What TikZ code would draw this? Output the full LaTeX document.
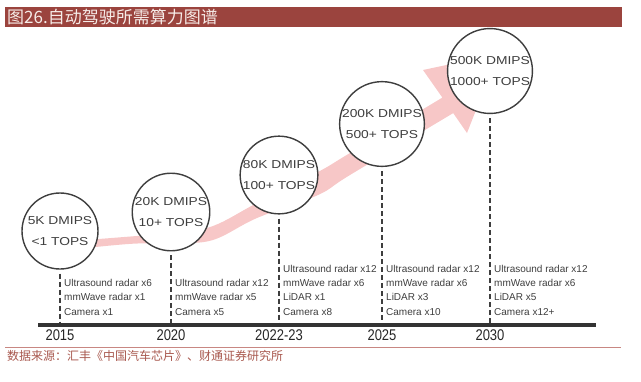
\documentclass[tikz,border=0pt]{standalone}
\usepackage{fontspec}
\usepackage{xcolor}
\usepackage{tikz}
\usetikzlibrary{positioning,calc}
\setmainfont{Liberation Sans}
\newfontfamily\cjkfont{Noto Sans CJK SC}
\newfontfamily\wideface[FakeStretch=1.2]{Liberation Sans}
\newfontfamily\yearface[FakeStretch=0.84]{Liberation Sans}
\definecolor{titlebar}{RGB}{155,68,62}
\definecolor{titleink}{RGB}{246,236,232}
\definecolor{srcred}{RGB}{168,88,78}
\definecolor{rulered}{RGB}{200,135,130}
\definecolor{arrowpink}{RGB}{247,199,199}
\definecolor{inkgray}{RGB}{62,62,62}
\tikzset{
  stage/.style   ={circle, draw=inkgray, line width=1.4pt, fill=white,
                   minimum size=76pt, inner sep=0pt, align=center, text=inkgray,
                   font=\wideface\fontsize{11.5}{21}\selectfont},
  spec/.style    ={anchor=south west, inner sep=0pt, align=left, text=inkgray,
                   font=\fontsize{10}{14.1}\selectfont},
  yearlbl/.style ={below=5pt, inner sep=0pt, text=black!85,
                   font=\yearface\fontsize{15.5}{15.5}\selectfont},
  guide/.style   ={line width=1.5pt, dash pattern=on 5pt off 3pt, draw=inkgray},
}

\begin{document}
\begin{tikzpicture}[x=1pt, y=-1pt,
      axis/.style={line width=4pt, draw=black!80},
      cjk/.style={inner sep=0pt, anchor=west}]
    \useasboundingbox (0,0) rectangle (641,381);

    % title bar
    \node[fill=titlebar, anchor=north west, inner sep=0pt,
          minimum width=617.5pt, minimum height=19.7pt] (bar) at (4.5,7) {};
    \node[cjk, text=titleink, font=\cjkfont\fontsize{17}{17}\selectfont]
        (title) at ([xshift=2.5pt]bar.west) {图26.自动驾驶所需算力图谱};

    % growth arrow (behind the circles)
    \fill[arrowpink]
        plot[smooth, tension=0.6] coordinates {(86,240) (133,236.3) (175,233)
            (213,226) (257,203) (318,172) (350,153) (442.4,97.6)}
        -- (423,70) -- (498,54) -- (467,133)
        -- plot[smooth, tension=0.6] coordinates {(453.2,113.1) (350,175)
            (318,195) (257,218) (213,240) (175,243) (133,243.7) (86,248)}
        -- cycle;

    % axis end points
    \coordinate (axl) at (38,324.5);
    \coordinate (axr) at (596,324.5);
    \coordinate (specbase) at (0,315.3);

    % compute stages
    \node[stage] (c2015) at (60,231)  {5K DMIPS\\<1 TOPS};
    \node[stage] (c2020) at (171,212) {20K DMIPS\\10+ TOPS};
    \node[stage] (c2223) at (279,175) {80K DMIPS\\100+ TOPS};
    \node[stage] (c2025) at (382,124) {200K DMIPS\\500+ TOPS};
    \node[stage] (c2030) at (490,71)  {500K DMIPS\\1000+ TOPS};

    % dashed drop lines
    \draw[guide] ([yshift=-4pt]c2015.south) -- (c2015.south |- axl);
    \draw[guide] ([yshift=-4pt]c2020.south) -- (c2020.south |- axl);
    \draw[guide] ([yshift=-4pt]c2223.south) -- (c2223.south |- axl);
    \draw[guide] ([yshift=-4pt]c2025.south) -- (c2025.south |- axl);
    \draw[guide] ([yshift=-4pt]c2030.south) -- (c2030.south |- axl);

    % timeline
    \draw[axis] (axl) -- (axr);

    % sensor sets
    \node[spec, xshift=4pt] (s2015) at (c2015.south |- specbase)
        {Ultrasound radar x6\\mmWave radar x1\\Camera x1};
    \node[spec, xshift=4pt] (s2020) at (c2020.south |- specbase)
        {Ultrasound radar x12\\mmWave radar x5\\Camera x5};
    \node[spec, xshift=4pt] (s2223) at (c2223.south |- specbase)
        {Ultrasound radar x12\\mmWave radar x6\\LiDAR x1\\Camera x8};
    \node[spec, xshift=4pt] (s2025) at (c2025.south |- specbase)
        {Ultrasound radar x12\\mmWave radar x6\\LiDAR x3\\Camera x10};
    \node[spec, xshift=4pt] (s2030) at (c2030.south |- specbase)
        {Ultrasound radar x12\\mmWave radar x6\\LiDAR x5\\Camera x12+};

    % years
    \node[yearlbl] (y2015) at (c2015.south |- axl) {2015};
    \node[yearlbl] (y2020) at (c2020.south |- axl) {2020};
    \node[yearlbl] (y2223) at (c2223.south |- axl) {2022-23};
    \node[yearlbl] (y2025) at (c2025.south |- axl) {2025};
    \node[yearlbl] (y2030) at (c2030.south |- axl) {2030};

    % source line
    \coordinate (srcl) at (5,347.5);
    \coordinate (srcr) at (621,347.5);
    \draw[rulered, line width=0.8pt] (srcl) -- (srcr);
    \node[cjk, text=srcred, font=\cjkfont\fontsize{12}{12}\selectfont]
        (source) at (7,356) {数据来源：汇丰《中国汽车芯片》、财通证券研究所};
  \end{tikzpicture}
\end{document}
